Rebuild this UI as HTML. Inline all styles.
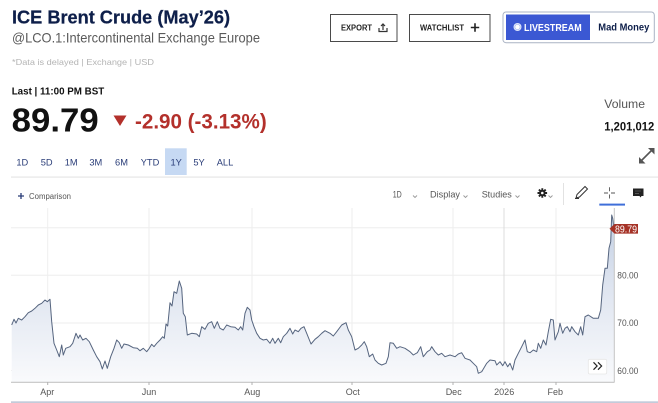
<!DOCTYPE html>
<html><head><meta charset="utf-8"><style>
html,body{margin:0;padding:0;background:#fff;width:658px;height:403px;overflow:hidden}
svg{display:block}
text{font-family:"Liberation Sans",Arial,sans-serif}
</style></head><body>
<svg width="658" height="403" viewBox="0 0 658 403" xmlns="http://www.w3.org/2000/svg">
<defs>
<linearGradient id="g" gradientUnits="userSpaceOnUse" x1="0" y1="212" x2="0" y2="382">
<stop offset="0" stop-color="#c2cfe3"/>
<stop offset="0.45" stop-color="#dfe5f0"/>
<stop offset="1" stop-color="#f9fafc"/>
</linearGradient>
</defs>
<rect width="658" height="403" fill="#fff"/>

<!-- Header -->
<text x="12" y="23.5" font-size="18" font-weight="bold" fill="#0e1f4a" stroke="#0e1f4a" stroke-width="0.25" textLength="218" lengthAdjust="spacingAndGlyphs">ICE Brent Crude (May’26)</text>
<text x="12" y="42.6" font-size="14" fill="#5a5a5a" textLength="248" lengthAdjust="spacingAndGlyphs">@LCO.1:Intercontinental Exchange Europe</text>
<text x="12" y="65" font-size="8.5" fill="#b4b4b4" textLength="142" lengthAdjust="spacingAndGlyphs">*Data is delayed | Exchange | USD</text>
<text x="11.7" y="94.3" font-size="10" font-weight="bold" fill="#111" textLength="92.6" lengthAdjust="spacingAndGlyphs">Last | 11:00 PM BST</text>
<text x="11.7" y="131.7" font-size="33" font-weight="bold" fill="#111" textLength="87" lengthAdjust="spacingAndGlyphs">89.79</text>
<polygon points="113.5,115.5 126.5,115.5 120,126" fill="#b3302b"/>
<text x="135" y="128.5" font-size="21" font-weight="bold" fill="#b3302b" textLength="131.7" lengthAdjust="spacingAndGlyphs">-2.90 (-3.13%)</text>

<!-- Buttons -->
<rect x="330.5" y="14.5" width="66.5" height="27" fill="#fff" stroke="#4a4a4a" stroke-width="1"/>
<text x="341" y="30.7" font-size="8" font-weight="bold" fill="#222" textLength="31" lengthAdjust="spacingAndGlyphs">EXPORT</text>
<g stroke="#333" stroke-width="1.2" fill="none">
<path d="M379,28 v3.5 h8 v-3.5"/><path d="M383,30 v-6"/><path d="M381,26 l2,-2 l2,2"/>
</g>
<rect x="409.5" y="14.5" width="80.5" height="27" fill="#fff" stroke="#4a4a4a" stroke-width="1"/>
<text x="420" y="30.7" font-size="8" font-weight="bold" fill="#222" textLength="44" lengthAdjust="spacingAndGlyphs">WATCHLIST</text>
<path d="M475,23.3 v8.4 M470.8,27.5 h8.4" stroke="#222" stroke-width="1.6"/>
<rect x="503" y="12" width="151.3" height="30.7" rx="3" fill="#fff" stroke="#aab3c4" stroke-width="1"/>
<rect x="506" y="14.5" width="84" height="25.5" fill="#3b58d3"/>
<circle cx="517.5" cy="27" r="4" fill="#dfe6fb"/>
<circle cx="517.5" cy="27" r="2.6" fill="#fff" stroke="#9db0f0" stroke-width="0.6"/>
<text x="524" y="30.8" font-size="10.5" font-weight="bold" fill="#fff" textLength="57.7" lengthAdjust="spacingAndGlyphs">LIVESTREAM</text>
<text x="598.3" y="30.6" font-size="10.5" font-weight="bold" fill="#0e1f4a" textLength="51" lengthAdjust="spacingAndGlyphs">Mad Money</text>

<!-- Volume -->
<text x="604.3" y="108" font-size="12" fill="#555" textLength="40.7" lengthAdjust="spacingAndGlyphs">Volume</text>
<text x="604.3" y="130.3" font-size="11.5" font-weight="bold" fill="#111" textLength="50" lengthAdjust="spacingAndGlyphs">1,201,012</text>
<g stroke="#555" stroke-width="1.6" fill="#555">
<path d="M641,161 L652,150" fill="none"/>
<polygon points="639,163.5 639,157 645.5,163.5" stroke="none"/>
<polygon points="654.5,148 654.5,154.5 648,148" stroke="none"/>
</g>

<!-- Periods -->
<rect x="165" y="148.3" width="21.7" height="26.7" fill="#c6d9f3"/>
<g font-size="9.3" fill="#2a3d78" text-anchor="middle">
<text x="22.3" y="165.5">1D</text>
<text x="46.7" y="165.5">5D</text>
<text x="71.2" y="165.5">1M</text>
<text x="95.8" y="165.5">3M</text>
<text x="121.5" y="165.5">6M</text>
<text x="150" y="165.5">YTD</text>
<text x="176.2" y="165.5">1Y</text>
<text x="199" y="165.5">5Y</text>
<text x="225" y="165.5">ALL</text>
</g>
<rect x="11" y="176.3" width="647" height="1.6" fill="#ececec"/>

<!-- Toolbar -->
<path d="M18,196 h6 M21,193 v6" stroke="#2a3d78" stroke-width="1.3"/>
<text x="29" y="199" font-size="8" fill="#555" textLength="42" lengthAdjust="spacingAndGlyphs">Comparison</text>
<g font-size="9.5" fill="#555">
<text x="392.7" y="197.3" textLength="9" lengthAdjust="spacingAndGlyphs">1D</text>
<text x="430" y="197.3" textLength="30" lengthAdjust="spacingAndGlyphs">Display</text>
<text x="481.7" y="197.3" textLength="30" lengthAdjust="spacingAndGlyphs">Studies</text>
</g>
<g stroke="#999" stroke-width="0.9" fill="none">
<path d="M413,195.5 l2,2 l2,-2"/><path d="M463.5,195.5 l2,2 l2,-2"/><path d="M515.5,195.5 l2,2 l2,-2"/><path d="M548.5,195.5 l2,2 l2,-2"/>
</g>
<g transform="translate(542.3,193)">
<circle r="3.2" fill="#222"/>
<g stroke="#222" stroke-width="1.9">
<path d="M0,-4.8 V4.8 M-4.8,0 H4.8 M-3.4,-3.4 L3.4,3.4 M-3.4,3.4 L3.4,-3.4"/>
</g>
<circle r="1.3" fill="#fff"/>
</g>
<rect x="563" y="183" width="1" height="22" fill="#e2e2e2"/>
<g stroke="#333" stroke-width="1" fill="none">
<path d="M576,198 l1,-3.5 l8,-8 l2.5,2.5 l-8,8 z"/><path d="M575,198.5 h4"/>
</g>
<g stroke="#555" stroke-width="0.9">
<path d="M609.5,187.3 v4 M609.5,194.5 v4 M604,193 h4 M611,193 h4"/>
</g>
<rect x="599.3" y="203.6" width="25.7" height="2" fill="#3f6fd9"/>
<path d="M633,188.5 h10.5 v7.5 h-2 l-1,1.5 l-1,-1.5 h-6.5 z" fill="#222"/>
<path d="M635,191 h6 M635,193.3 h4" stroke="#777" stroke-width="0.6"/>

<!-- Chart grid -->
<g stroke="#eeeeee" stroke-width="1">
<path d="M11,227.7 H614 M11,275.3 H614 M11,323 H614 M11,370.5 H614"/>
<path d="M47.7,208 V382 M149,208 V382 M252,208 V382 M352,208 V382 M453,208 V382 M556,208 V382"/>
</g>
<path d="M504,208 V382" stroke="#dcdcdc" stroke-width="1"/>

<!-- Series -->
<path d="M11.7,325 L14,319.3 16,323 18.3,318.3 21.7,320 25,316.7 28.3,312.7 31.7,311 35,308.3 38.3,305 41.7,303.3 45,300 47.3,301.7 50,299.3 51.7,321.7 54,343.3 56.7,350 59.3,356.7 61.7,345 63.3,355 65.7,348.3 70,346.7 72.7,343.3 76,333.3 78.3,338.3 80,335 82.7,340 86,338.3 89.3,341.7 93.3,350 96.7,356.7 100,361.7 102.3,369 105,361 107.3,368.3 110.7,356.7 114,348.3 116.7,340 119.3,342.7 121.7,348.3 124,344 128.3,345 133.3,347.7 137.3,348.3 140,350.7 143.3,348.3 146.7,351.7 149.3,348.3 151.7,344.3 154,346.7 156.7,343.3 160,340 162.7,336.7 164.3,338.3 166,324 167.7,326 170,302.7 172,306 174,291.7 176.7,293.3 179.3,281 181.7,288.3 183.3,313.3 185.3,316.7 187.3,335 191.7,333.3 196.7,334 199.3,336.7 201.7,326.7 205,329.3 208.3,323.3 211.7,321.7 214.3,328.3 217.3,321.7 220,328.3 223.3,330 226.7,325 230.7,326.7 235,327.3 238.3,330 240.7,326.7 242.7,330 245,313.3 247.3,307.3 250,310 251.7,320 254,326.7 256.7,333.3 260,338.3 263.3,340 266.7,339.3 270,343.3 272.7,338.3 275,343.3 278.3,338.3 280.7,342.7 283.3,336.7 286.7,333.3 290,328.3 292.7,334 295,330 298.3,331.7 301,328.3 304,326.7 306.7,333.3 311,344 315,339.3 318.3,336.7 321.7,333.3 325,330.7 330,333.3 333.3,336 336.7,331.7 341.7,325 346,322.7 348.3,330 351.7,336.7 355,350 358.3,348.3 361.7,345 364.3,341.7 366.7,346.7 369.3,356.7 372.7,354 375,360 378.3,363.3 381.7,365 386,363.3 388.3,356.7 390,342.7 393.3,343.3 396.7,348.3 400,346.7 405,348.3 410,351.7 413.3,355 417.3,352.7 420.7,346.7 423.3,356.7 427.3,351.7 430,350 431.7,346.7 435,351.7 438.3,355 441.7,353.3 445,356.7 450,355 455,356.7 458.3,354 461.7,352.7 465,358.3 470,360 473.3,363.3 476.7,366.7 478.3,373.3 481.7,371.7 486.7,363.3 490,360 495,360.7 496.7,365 500,361.7 502.7,365.7 505,361.7 507.7,366.7 510,363.3 512.7,370 515,360 518.3,353.3 521.7,346.7 525,340 527.3,351.7 530,352.7 533.3,350 536.7,351.7 538.3,343.3 540.7,348.3 543.3,340 546,345 548.3,331.7 550.7,319.3 553.3,320 555,340 558.3,331.7 560,323.3 562.7,333.3 565,328.3 567.3,326.7 570,331.7 571.7,326.7 575,331.7 578.3,335 580.7,326.7 582.7,335 585,316.7 588.3,315 593.3,318.3 598.3,318.3 600.7,310 602.7,285 605,268.3 607.3,268.3 609,248.3 610.7,241.7 611.7,215 612.7,218.3 614,228 L614,382 L11.7,382 Z" fill="url(#g)" stroke="none"/>
<path d="M11.7,325 L14,319.3 16,323 18.3,318.3 21.7,320 25,316.7 28.3,312.7 31.7,311 35,308.3 38.3,305 41.7,303.3 45,300 47.3,301.7 50,299.3 51.7,321.7 54,343.3 56.7,350 59.3,356.7 61.7,345 63.3,355 65.7,348.3 70,346.7 72.7,343.3 76,333.3 78.3,338.3 80,335 82.7,340 86,338.3 89.3,341.7 93.3,350 96.7,356.7 100,361.7 102.3,369 105,361 107.3,368.3 110.7,356.7 114,348.3 116.7,340 119.3,342.7 121.7,348.3 124,344 128.3,345 133.3,347.7 137.3,348.3 140,350.7 143.3,348.3 146.7,351.7 149.3,348.3 151.7,344.3 154,346.7 156.7,343.3 160,340 162.7,336.7 164.3,338.3 166,324 167.7,326 170,302.7 172,306 174,291.7 176.7,293.3 179.3,281 181.7,288.3 183.3,313.3 185.3,316.7 187.3,335 191.7,333.3 196.7,334 199.3,336.7 201.7,326.7 205,329.3 208.3,323.3 211.7,321.7 214.3,328.3 217.3,321.7 220,328.3 223.3,330 226.7,325 230.7,326.7 235,327.3 238.3,330 240.7,326.7 242.7,330 245,313.3 247.3,307.3 250,310 251.7,320 254,326.7 256.7,333.3 260,338.3 263.3,340 266.7,339.3 270,343.3 272.7,338.3 275,343.3 278.3,338.3 280.7,342.7 283.3,336.7 286.7,333.3 290,328.3 292.7,334 295,330 298.3,331.7 301,328.3 304,326.7 306.7,333.3 311,344 315,339.3 318.3,336.7 321.7,333.3 325,330.7 330,333.3 333.3,336 336.7,331.7 341.7,325 346,322.7 348.3,330 351.7,336.7 355,350 358.3,348.3 361.7,345 364.3,341.7 366.7,346.7 369.3,356.7 372.7,354 375,360 378.3,363.3 381.7,365 386,363.3 388.3,356.7 390,342.7 393.3,343.3 396.7,348.3 400,346.7 405,348.3 410,351.7 413.3,355 417.3,352.7 420.7,346.7 423.3,356.7 427.3,351.7 430,350 431.7,346.7 435,351.7 438.3,355 441.7,353.3 445,356.7 450,355 455,356.7 458.3,354 461.7,352.7 465,358.3 470,360 473.3,363.3 476.7,366.7 478.3,373.3 481.7,371.7 486.7,363.3 490,360 495,360.7 496.7,365 500,361.7 502.7,365.7 505,361.7 507.7,366.7 510,363.3 512.7,370 515,360 518.3,353.3 521.7,346.7 525,340 527.3,351.7 530,352.7 533.3,350 536.7,351.7 538.3,343.3 540.7,348.3 543.3,340 546,345 548.3,331.7 550.7,319.3 553.3,320 555,340 558.3,331.7 560,323.3 562.7,333.3 565,328.3 567.3,326.7 570,331.7 571.7,326.7 575,331.7 578.3,335 580.7,326.7 582.7,335 585,316.7 588.3,315 593.3,318.3 598.3,318.3 600.7,310 602.7,285 605,268.3 607.3,268.3 609,248.3 610.7,241.7 611.7,215 612.7,218.3 614,228" fill="none" stroke="#56657f" stroke-width="1" stroke-linejoin="round"/>

<!-- Axes -->
<path d="M11,382.3 H614.5" stroke="#c4c4c4" stroke-width="1.2"/>
<path d="M614.3,208 V382.3" stroke="#c4c4c4" stroke-width="1"/>
<g stroke="#b0b0b0" stroke-width="1">
<path d="M47.7,382 v3 M149,382 v3 M252,382 v3 M352,382 v3 M453,382 v3 M504,382 v3 M556,382 v3"/>
</g>
<g font-size="9" fill="#555" text-anchor="middle">
<text x="47.3" y="395">Apr</text>
<text x="149" y="395">Jun</text>
<text x="252.2" y="395">Aug</text>
<text x="352.8" y="395">Oct</text>
<text x="453.7" y="395">Dec</text>
<text x="504.2" y="395">2026</text>
<text x="555.3" y="395">Feb</text>
</g>
<g font-size="9.5" fill="#555">
<text x="617.3" y="278.6" textLength="21" lengthAdjust="spacingAndGlyphs">80.00</text>
<text x="617.3" y="326.2" textLength="21" lengthAdjust="spacingAndGlyphs">70.00</text>
<text x="617.3" y="373.8" textLength="21" lengthAdjust="spacingAndGlyphs">60.00</text>
</g>
<path d="M609.5,228.8 L614.5,224 H638 V233.6 H614.5 Z" fill="#a53226"/>
<text x="615" y="232.6" font-size="10.5" fill="#fff" textLength="22" lengthAdjust="spacingAndGlyphs">89.79</text>

<!-- scroll button -->
<rect x="588.3" y="359.3" width="18.4" height="14.7" rx="1.5" fill="#fff" stroke="#e6e6e6" stroke-width="0.8"/>
<path d="M593.5,362.3 l3.6,3.7 l-3.6,3.7 M598,362.3 l3.6,3.7 l-3.6,3.7" fill="none" stroke="#222" stroke-width="1.2"/>

<rect x="11" y="401.3" width="647" height="1.7" fill="#c3cbda"/>
</svg>
</body></html>
